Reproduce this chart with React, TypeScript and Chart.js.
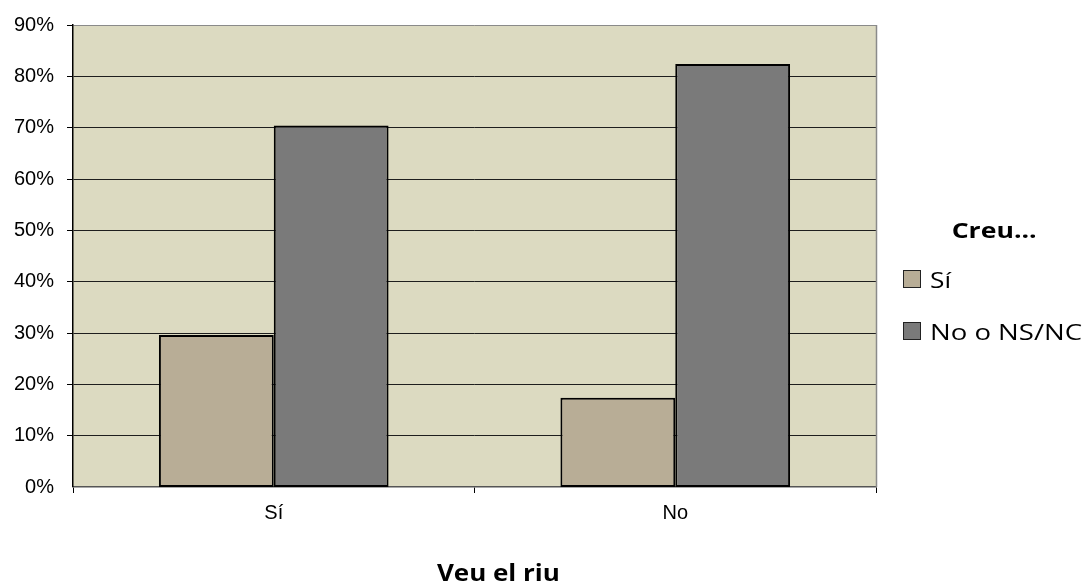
import React, { useEffect, useRef } from "react";
import { Chart, registerables } from "chart.js";

Chart.register(...registerables);

const categories = ["Sí", "No"];
const seriesLabels = ["Sí", "No o NS/NC"];
const siValues = [29.6, 17.4];
const noValues = [70.4, 82.4];
const seriesColors = ["#B8AD96", "#7A7A7A"];
const yTickValues = [0, 10, 20, 30, 40, 50, 60, 70, 80, 90];
const legendTitle = "Creu...";
const xAxisTitle = "Veu el riu";

const W = 1086;
const H = 586;
const FAMILY = "'Open Sans', Lato, sans-serif";

let measureCtx: CanvasRenderingContext2D | null = null;
function measure(text: string, font: string): number {
  if (!measureCtx) {
    const c = document.createElement("canvas");
    measureCtx = c.getContext("2d");
  }
  if (!measureCtx) return 1;
  measureCtx.font = font;
  return measureCtx.measureText(text).width || 1;
}

function StretchText(props: {
  text: string;
  size: number;
  bold?: boolean;
  width: number;
  left: number;
  top: number;
  origin: "left" | "center";
}) {
  const font = `${props.bold ? "bold " : ""}${props.size}px ${FAMILY}`;
  const w = measure(props.text, font);
  const s = props.width / w;
  const left = props.origin === "center" ? props.left - w / 2 : props.left;
  return (
    <div
      style={{
        position: "absolute",
        left,
        top: props.top,
        width: w,
        whiteSpace: "nowrap",
        fontFamily: FAMILY,
        fontWeight: props.bold ? 700 : 400,
        fontSize: props.size,
        lineHeight: `${props.size}px`,
        color: "#000",
        transform: `scaleX(${s})`,
        transformOrigin: props.origin === "center" ? "center" : "left",
      }}
    >
      {props.text}
    </div>
  );
}

const plotBg = {
  id: "plotBg",
  beforeDraw(chart: any) {
    const { ctx, chartArea } = chart;
    ctx.save();
    ctx.fillStyle = "#DCDAC1";
    ctx.fillRect(chartArea.left, chartArea.top, chartArea.right - chartArea.left, chartArea.bottom - chartArea.top);
    ctx.restore();
  },
  afterDraw(chart: any) {
    const { ctx, chartArea } = chart;
    ctx.save();
    ctx.strokeStyle = "#8A8A8A";
    ctx.lineWidth = 1.5;
    ctx.beginPath();
    const x = Math.round(chartArea.right) + 0.5;
    ctx.moveTo(x, chartArea.top);
    ctx.lineTo(x, chartArea.bottom);
    ctx.stroke();
    ctx.restore();
  },
};

export default function App() {
  const ref = useRef<HTMLCanvasElement | null>(null);

  useEffect(() => {
    if (!ref.current) return;
    const tickFont = { family: "'Liberation Sans', Arial, sans-serif", size: 20 };
    const chart = new Chart(ref.current, {
      type: "bar",
      data: {
        labels: categories,
        datasets: [
          {
            label: seriesLabels[0],
            data: siValues,
            backgroundColor: seriesColors[0],
            borderColor: "#000",
            borderWidth: 2,
            borderSkipped: false,
            categoryPercentage: 0.572,
            barPercentage: 1,
          },
          {
            label: seriesLabels[1],
            data: noValues,
            backgroundColor: seriesColors[1],
            borderColor: "#000",
            borderWidth: 2,
            borderSkipped: false,
            categoryPercentage: 0.572,
            barPercentage: 1,
          },
        ],
      },
      options: {
        responsive: false,
        animation: false,
        events: [],
        layout: { padding: { left: 0, top: 24, right: 210, bottom: 0 } },
        plugins: {
          legend: { display: false },
          tooltip: { enabled: false },
          title: { display: false },
        },
        scales: {
          x: {
            offset: true,
            afterFit: (scale: any) => {
              scale.height = 99;
            },
            grid: {
              display: true,
              drawOnChartArea: false,
              drawTicks: true,
              tickLength: 6,
              tickColor: "#000",
              offset: true,
            },
            border: { display: true, color: "#555", width: 1.5 },
            ticks: { font: tickFont, color: "#000", padding: 8 },
          },
          y: {
            min: 0,
            max: 90,
            afterFit: (scale: any) => {
              scale.width = 73;
            },
            afterBuildTicks: (scale: any) => {
              scale.ticks = yTickValues.map((v) => ({ value: v }));
            },
            grid: {
              color: (c: any) => (c.tick && c.tick.value === 90 ? "#8A8A8A" : "#1E1E1E"),
              lineWidth: (c: any) => (c.tick && c.tick.value === 0 ? 0 : 1),
              tickColor: "#000",
              tickLength: 6,
              drawTicks: true,
            },
            border: { display: true, color: "#000", width: 1.5 },
            ticks: {
              font: tickFont,
              color: "#000",
              padding: 13,
              callback: (v: any) => `${v}%`,
            },
          },
        },
      },
      plugins: [plotBg],
    });
    return () => chart.destroy();
  }, []);

  const boxStyle = (color: string, top: number): React.CSSProperties => ({
    position: "absolute",
    left: 903,
    top,
    width: 16,
    height: 16,
    background: color,
    border: "1.5px solid #222",
  });

  return (
    <div style={{ position: "fixed", left: 0, top: 0, width: W, height: H, background: "#fff", overflow: "hidden" }}>
      <canvas ref={ref} width={W} height={H} style={{ position: "absolute", left: 0, top: 0 }} />
      <StretchText text={legendTitle} size={22} bold width={85} left={994} top={218} origin="center" />
      <div style={boxStyle(seriesColors[0], 270)} />
      <StretchText text={seriesLabels[0]} size={22} width={21} left={930} top={268} origin="left" />
      <div style={boxStyle(seriesColors[1], 322)} />
      <StretchText text={seriesLabels[1]} size={22} width={152} left={930} top={320} origin="left" />
      <StretchText text={xAxisTitle} size={23} bold width={123} left={498.5} top={561} origin="center" />
    </div>
  );
}
